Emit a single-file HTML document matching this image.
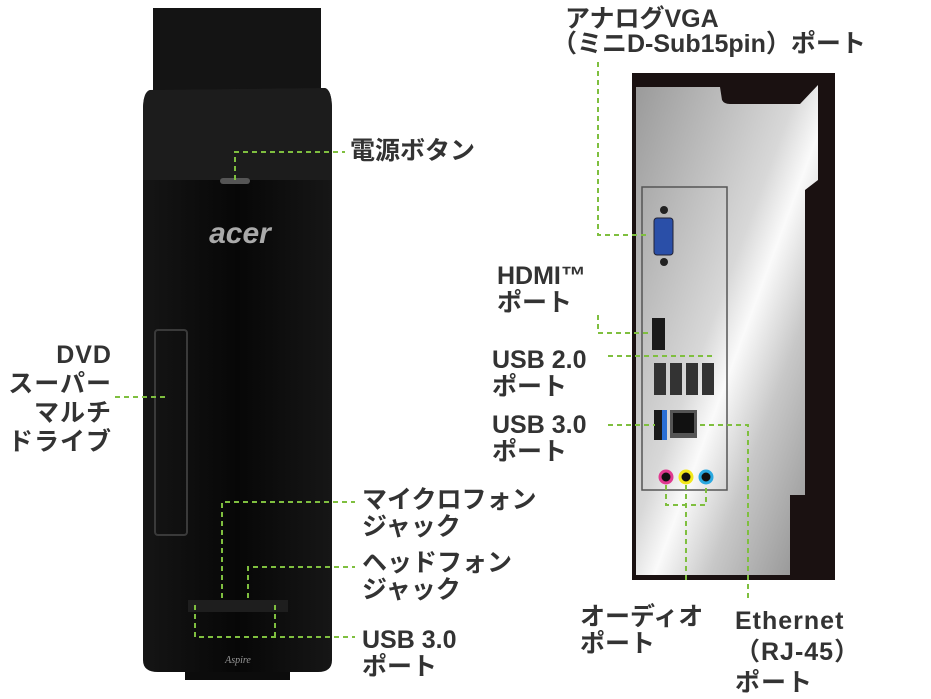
<!DOCTYPE html>
<html><head><meta charset="utf-8"><style>
body{margin:0;width:931px;height:697px;background:#fff;position:relative;overflow:hidden;font-family:"Liberation Sans","Noto Sans CJK JP",sans-serif;}
.t{position:absolute;font-weight:bold;font-size:25px;color:#333;line-height:27px;white-space:nowrap;}
</style></head><body>
<svg width="931" height="697" style="position:absolute;left:0;top:0">
<defs>
<linearGradient id="sv" x1="0" y1="0" x2="1" y2="1">
<stop offset="0" stop-color="#9a9a9a"/><stop offset="0.45" stop-color="#d8d8d8"/><stop offset="0.55" stop-color="#fafafa"/><stop offset="0.7" stop-color="#c8c8c8"/><stop offset="1" stop-color="#8a8a8a"/></linearGradient>
<linearGradient id="tw" x1="0" y1="0" x2="1" y2="0"><stop offset="0" stop-color="#151515"/><stop offset="0.5" stop-color="#070707"/><stop offset="1" stop-color="#161616"/></linearGradient>
</defs>
<rect x="153" y="8" width="168" height="90" fill="#141414"/>
<rect x="185" y="635" width="105" height="45" fill="#0c0c0c"/>
<path d="M150 90 L325 88 Q332 90 332 110 L332 660 Q332 672 318 672 L158 672 Q143 672 143 660 L143 110 Q143 92 150 90Z" fill="url(#tw)"/>
<path d="M150 90 L325 88 Q332 90 332 110 L332 180 L143 180 L143 110 Q143 92 150 90Z" fill="#1c1c1c"/>
<rect x="220" y="178" width="30" height="6" rx="3" fill="#555"/>
<rect x="155" y="330" width="32" height="205" rx="3" fill="none" stroke="#3a3a3a" stroke-width="2"/>
<text x="240" y="243" font-family="Liberation Sans" font-style="italic" font-weight="bold" font-size="30" fill="#aaa" text-anchor="middle">acer</text>
<text x="238" y="663" font-family="Liberation Serif" font-style="italic" font-size="10" fill="#999" text-anchor="middle">Aspire</text>
<rect x="188" y="600" width="100" height="12" fill="#1e1e1e"/>
<rect x="632" y="73" width="203" height="507" fill="#1a1111"/>
<path d="M636 87 L720 87 L722 100 Q724 104 730 104 L800 104 L818 85 L818 180 L805 190 L805 495 L790 495 L790 575 L636 575Z" fill="url(#sv)"/>
<rect x="642" y="187" width="85" height="303" fill="none" stroke="#555" stroke-width="1.5"/>
<circle cx="664" cy="210" r="4" fill="#222"/><circle cx="664" cy="262" r="4" fill="#222"/>
<rect x="654" y="218" width="19" height="37" rx="3" fill="#2a4fa8" stroke="#223"/>
<rect x="652" y="318" width="13" height="32" fill="#1a1a1a"/>
<rect x="654" y="363" width="12" height="32" fill="#333"/><rect x="670" y="363" width="12" height="32" fill="#333"/><rect x="686" y="363" width="12" height="32" fill="#333"/><rect x="702" y="363" width="12" height="32" fill="#333"/>
<rect x="654" y="410" width="13" height="30" fill="#1a1a1a"/><rect x="662" y="410" width="5" height="30" fill="#2a6fd6"/>
<rect x="670" y="410" width="27" height="28" fill="#555"/><rect x="673" y="413" width="21" height="20" fill="#111"/>
<circle cx="666" cy="477" r="6" fill="#111" stroke="#e0398f" stroke-width="3"/>
<circle cx="686" cy="477" r="6" fill="#111" stroke="#f3e81a" stroke-width="3"/>
<circle cx="706" cy="477" r="6" fill="#111" stroke="#2aa8e0" stroke-width="3"/>
<g fill="none" stroke="#7fbf3f" stroke-width="2" stroke-dasharray="5,4">
<path d="M235 180 L235 152 L345 152"/>
<path d="M115 397 L168 397"/>
<path d="M222 598 L222 502 L355 502"/>
<path d="M248 598 L248 567 L355 567"/>
<path d="M195 605 L195 637 L355 637 M275 605 L275 637"/>
<path d="M598 62 L598 235 L648 235"/>
<path d="M598 315 L598 333 L648 333"/>
<path d="M608 356 L712 356"/>
<path d="M608 425 L655 425"/>
<path d="M700 425 L748 425 L748 600"/>
<path d="M666 485 L666 505 L706 505 L706 485 M686 485 L686 580"/>
</g>
</svg>
<div class="t" style="left:350px;top:138px">電源ボタン</div>
<div class="t" style="right:819px;top:341px;text-align:right;line-height:29px;letter-spacing:1px">DVD<br>スーパー<br>マルチ<br>ドライブ</div>
<div class="t" style="left:362px;top:487px">マイクロフォン<br>ジャック</div>
<div class="t" style="left:362px;top:550px">ヘッドフォン<br>ジャック</div>
<div class="t" style="left:362px;top:627px">USB 3.0<br>ポート</div>
<div class="t" style="left:565px;top:6px">アナログVGA</div>
<div class="t" style="left:552px;top:31px">（ミニD-Sub15pin）ポート</div>
<div class="t" style="left:497px;top:263px">HDMI™<br>ポート</div>
<div class="t" style="left:492px;top:347px">USB 2.0<br>ポート</div>
<div class="t" style="left:492px;top:412px">USB 3.0<br>ポート</div>
<div class="t" style="left:580px;top:604px">オーディオ<br>ポート</div>
<div class="t" style="left:735px;top:606px;line-height:31px;letter-spacing:1px">Ethernet<br>（RJ-45）<br>ポート</div>
</body></html>
